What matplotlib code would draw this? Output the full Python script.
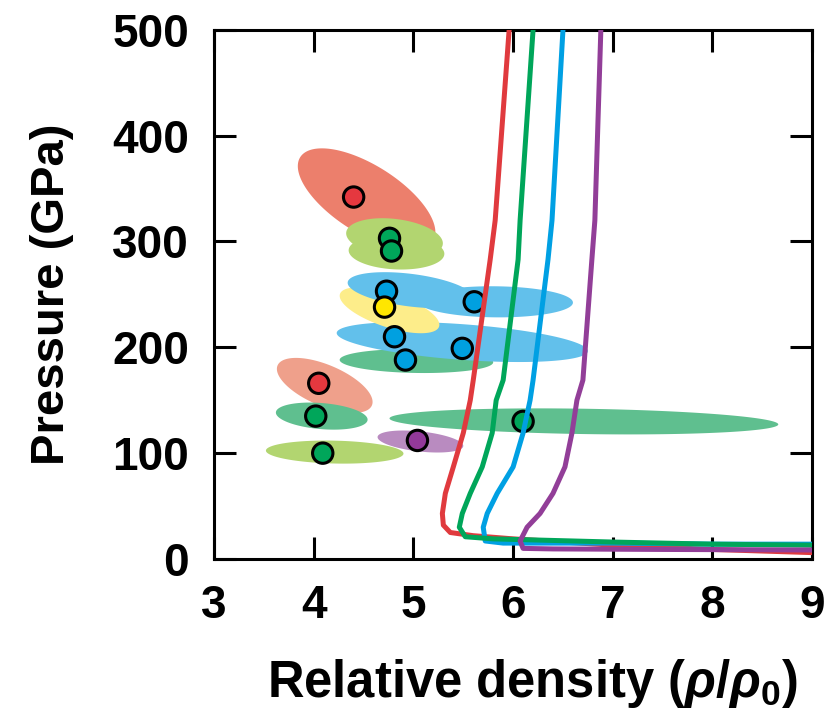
import numpy as np
import matplotlib
matplotlib.use("Agg")
import matplotlib.pyplot as plt

plt.rcParams['font.family'] = ['Liberation Sans', 'DejaVu Sans']
plt.rcParams['font.weight'] = 'bold'
plt.rcParams['mathtext.fontset'] = 'custom'
plt.rcParams['mathtext.rm'] = 'Liberation Sans'
plt.rcParams['mathtext.it'] = 'Liberation Sans:italic'
plt.rcParams['mathtext.bf'] = 'Liberation Sans:bold'
plt.rcParams['mathtext.bfit'] = 'Liberation Sans:bold:italic'

# uncertainty ellipses: centre, half widths, correlation
ell_x = [4.53, 4.81, 4.83, 4.11, 4.08, 4.21, 5.07, 6.71, 5.03, 5.49, 4.76, 4.97, 5.82]
ell_y = [340, 303, 290, 164, 135, 101, 111, 130, 187, 205, 235, 254, 243]
ell_dx = [0.69, 0.485, 0.48, 0.48, 0.46, 0.69, 0.43, 1.95, 0.77, 1.26, 0.50, 0.63, 0.78]
ell_dy = [48, 19, 16.5, 26, 12.8, 10.9, 10.4, 12.3, 11.3, 18.9, 21.7, 17, 14.7]
ell_rho = [-0.65, -0.25, -0.1, -0.6, -0.26, -0.13, -0.4, -0.23, -0.1, -0.45, -0.63, -0.41, -0.05]
ell_col = ['#EC7F6C', '#B2D570', '#B2D570', '#EFA08B', '#5FBF8F', '#B2D570', '#B98BC0',
           '#5FBF8F', '#5FBF8F', '#62C0EB', '#FDED8A', '#62C0EB', '#62C0EB']

# measured points
pt_x = [4.40, 4.76, 4.78, 4.73, 4.71, 5.61, 4.81, 5.49, 4.92, 4.05, 4.02, 4.09, 5.04, 6.10]
pt_y = [342, 303, 291, 253, 238, 243, 210, 199, 188, 166, 135, 100, 112, 130]
pt_col = ['#E5383F', '#00A65A', '#00A65A', '#00A0E0', '#FFE600', '#00A0E0', '#00A0E0',
          '#00A0E0', '#00A0E0', '#E5383F', '#00A65A', '#00A65A', '#93399A', '#00A65A']

# hugoniot curves
red_x = [5.96, 5.82, 5.77, 5.60, 5.57, 5.50, 5.40, 5.32, 5.29, 5.30, 5.37, 5.6, 6.0, 7.0, 8.0, 9.0]
red_y = [500, 320, 283, 169, 150, 119, 87, 62, 43, 32, 25, 22, 19, 13, 9, 6]
blue_x = [6.50, 6.39, 6.35, 6.20, 6.17, 6.10, 6.00, 5.84, 5.74, 5.70, 5.72, 5.9, 7.0, 8.0, 9.0]
blue_y = [500, 320, 283, 169, 150, 119, 87, 62, 43, 30, 17, 15, 15, 14, 14]
green_x = [6.20, 6.07, 6.05, 5.90, 5.83, 5.79, 5.69, 5.57, 5.49, 5.46, 5.52, 5.8, 7.0, 8.0, 9.0]
green_y = [500, 320, 283, 169, 150, 119, 87, 62, 43, 30, 21, 19, 16, 14, 13]
purple_x = [6.88, 6.82, 6.79, 6.70, 6.64, 6.59, 6.52, 6.40, 6.27, 6.14, 6.07, 6.10, 6.4, 7.5, 9.0]
purple_y = [500, 320, 283, 169, 150, 119, 87, 62, 43, 30, 17, 10, 9.5, 9, 8.5]

fig = plt.figure(figsize=(8.33, 7.17), dpi=100)
ax = fig.add_axes([0.257, 0.2204, 0.718, 0.738])

t = np.linspace(0, 2 * np.pi, 200)
for cx, cy, dx, dy, r, c in zip(ell_x, ell_y, ell_dx, ell_dy, ell_rho, ell_col):
    ex = cx + dx * np.cos(t)
    ey = cy + dy * (r * np.cos(t) + np.sqrt(1 - r**2) * np.sin(t))
    ax.fill(ex, ey, color=c, lw=0, zorder=1)

ax.scatter(pt_x, pt_y, s=215, c=pt_col, edgecolors='black', linewidths=2.2, zorder=3)

ax.plot(red_x, red_y, color='#E03A3E', lw=3.6, zorder=4)
ax.plot(blue_x, blue_y, color='#00A0E3', lw=3.6, zorder=4)
ax.plot(green_x, green_y, color='#00A65A', lw=3.6, zorder=4)
ax.plot(purple_x, purple_y, color='#923E98', lw=3.6, zorder=4)

ax.set_xlim(3, 9)
ax.set_ylim(0, 500)
ax.set_xticks([3, 4, 5, 6, 7, 8, 9])
ax.set_yticks([0, 100, 200, 300, 400, 500])
ax.tick_params(direction='in', length=16, width=2.2, top=True, right=True,
               labelsize=33, pad=18)
for s in ax.spines.values():
    s.set_linewidth(2.2)

ax.set_ylabel('Pressure (GPa)', fontsize=34, fontweight='bold')
ax.yaxis.set_label_coords(-0.235, 0.5)
ax.set_xlabel(r'Relative density $(\mathbfit{\rho}/\mathbfit{\rho}_{\mathbf{0}})$',
              fontsize=36.5, fontweight='bold')
ax.xaxis.set_label_coords(0.533, -0.185)

fig.savefig('out.png', dpi=100)
